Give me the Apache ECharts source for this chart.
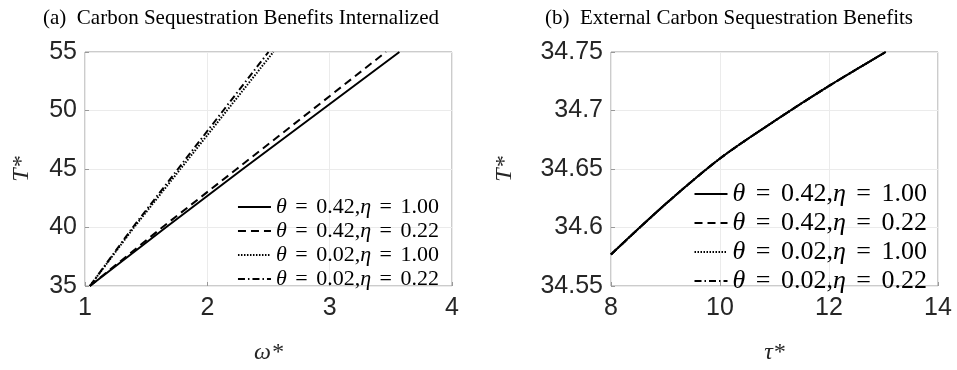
<!DOCTYPE html>
<html><head><meta charset="utf-8">
<script src="https://cdn.jsdelivr.net/npm/echarts@6/dist/echarts.min.js"></script>
<style>html,body{margin:0;padding:0;background:#fff}#c{width:957px;height:370px}</style>
</head><body><div id="c"></div>
<script>
// ---- data ----
const seriesNames = ['θ = 0.42,η = 1.00','θ = 0.42,η = 0.22','θ = 0.02,η = 1.00','θ = 0.02,η = 0.22'];
const leftT = [35, 40, 45, 50, 55];
const omegaSolid   = [1.04, 1.66, 2.29, 2.93, 3.57];
const omegaDashed  = [1.04, 1.63, 2.24, 2.85, 3.46];
const omegaDotted  = [1.04, 1.40, 1.78, 2.16, 2.54];
const omegaDashDot = [1.04, 1.39, 1.76, 2.13, 2.50];
const tau    = [8, 9, 10, 11, 12, 13.04];
const rightT = [34.577, 34.620, 34.659, 34.691, 34.721, 34.75];
const leftXTicks = [1, 2, 3, 4];
const leftYTicks = [35, 40, 45, 50, 55];
const rightXTicks = [8, 10, 12, 14];
const rightYTicks = [34.55, 34.6, 34.65, 34.7, 34.75];

const styles = [
  {type:'solid', width:2},
  {type:[8,5], width:2},
  {type:[1.5,1.5], width:2},
  {type:[7,3,1.5,3], width:2}
];
function pair(xs, ys){ return xs.map((x,i)=>[x, ys[i]]); }
const leftData = [pair(omegaSolid, leftT), pair(omegaDashed, leftT), pair(omegaDotted, leftT), pair(omegaDashDot, leftT)];

const series = [];
for (let k = 3; k >= 0; k--) {
  series.push({name: seriesNames[k], type:'line', xAxisIndex:0, yAxisIndex:0, data:leftData[k],
    showSymbol:false, symbol:'none', lineStyle:{color:'#000', type:styles[k].type, width:styles[k].width}, itemStyle:{color:'#000'}, z: 10-k});
}
for (let k = 3; k >= 0; k--) {
  series.push({name: seriesNames[k], type:'line', xAxisIndex:1, yAxisIndex:1, data:pair(tau, rightT),
    showSymbol:false, symbol:'none', smooth:0.3, lineStyle:{color:'#000', type:styles[k].type, width:styles[k].width}, itemStyle:{color:'#000'}, z: 10-k});
}

const tickFont = {fontFamily:'Liberation Sans, Arial, sans-serif', fontSize:25, color:'#262626'};
const nameFont = {fontFamily:'Liberation Serif, serif', fontStyle:'italic', fontSize:24, color:'#262626'};
function fmt(name){ return name.replace('θ','{i|θ}').replace('η','{i|η}').replace(/ = /g,' {e|=} '); }
function legendCfg(right, top, fs, lh, gap, pad){
  return {
    orient:'vertical', right:right, top:top, padding:0, itemWidth:33, itemHeight:14, itemGap:gap,
    align:'left', data:seriesNames, selectedMode:false,
    itemStyle:{opacity:0, color:'transparent', borderWidth:0},
    textStyle:{fontFamily:'Liberation Serif, serif', fontSize:fs, color:'#000', lineHeight:lh,
      rich:{
        i:{fontFamily:'Liberation Serif, serif', fontStyle:'italic', fontSize:fs, color:'#000', lineHeight:lh},
        e:{fontFamily:'Liberation Serif, serif', fontSize:fs, color:'#000', padding:[0,pad], lineHeight:lh}
      }},
    formatter: fmt
  };
}
function xAx(idx, min, max, interval, name){
  return {gridIndex:idx, type:'value', min:min, max:max, interval:interval, name:name,
    nameLocation:'middle', nameGap:55, nameTextStyle:nameFont,
    axisLine:{show:false}, axisTick:{show:true, inside:true, length:4, lineStyle:{color:'#999'}},
    axisLabel:Object.assign({margin:10}, tickFont),
    splitLine:{show:true, lineStyle:{color:'#ebebeb', width:1}}};
}
function yAx(idx, min, max, interval, gap, dec){
  return {gridIndex:idx, type:'value', min:min, max:max, interval:interval, name:'T*',
    nameLocation:'middle', nameGap:gap, nameRotate:90, nameTextStyle:nameFont,
    axisLine:{show:false}, axisTick:{show:true, inside:true, length:4, lineStyle:{color:'#999'}},
    axisLabel:Object.assign({margin:8, formatter: v => dec ? String(+v.toFixed(2)) : String(v)}, tickFont),
    splitLine:{show:true, lineStyle:{color:'#ebebeb', width:1}}};
}

const chart = echarts.init(document.getElementById('c'), null, {renderer:'canvas'});
chart.setOption({
  animation:false,
  backgroundColor:'#fff',
  title:[
    {text:'(a)  Carbon Sequestration Benefits Internalized', left:236, top:3, textAlign:'center',
     textStyle:{fontFamily:'Liberation Serif, serif', fontWeight:'normal', fontSize:21, color:'#000'}},
    {text:'(b)  External Carbon Sequestration Benefits', left:724, top:3, textAlign:'center',
     textStyle:{fontFamily:'Liberation Serif, serif', fontWeight:'normal', fontSize:21, color:'#000'}}
  ],
  grid:[
    {left:85, top:52, width:367, height:245, show:true, borderColor:'#999', borderWidth:1, backgroundColor:'transparent'},
    {left:611, top:52, width:327, height:245, show:true, borderColor:'#999', borderWidth:1, backgroundColor:'transparent'}
  ],
  xAxis:[ xAx(0, 1, 4, 1, 'ω*'), xAx(1, 8, 14, 2, 'τ*') ],
  yAxis:[ yAx(0, 35, 55, 5, 51, false), yAx(1, 34.55, 34.75, 0.05, 94, true) ],
  legend:[ legendCfg(518, 196, 22, 22, 2, 3), legendCfg(30, 181, 26, 26, 3, 4) ],
  series: series
});
</script></body></html>
